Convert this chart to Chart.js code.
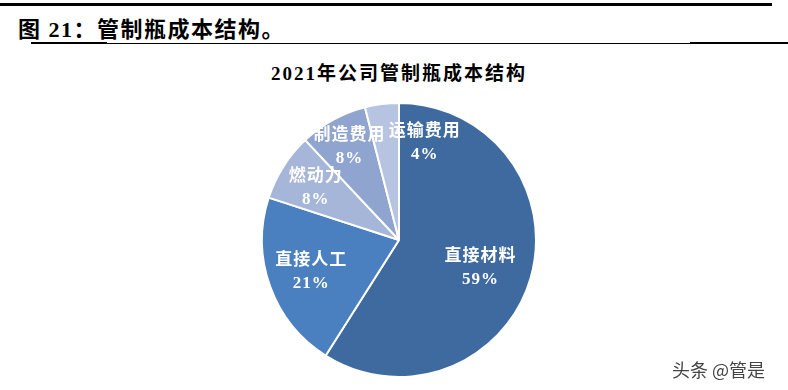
<!DOCTYPE html>
<html>
<head>
<meta charset="utf-8">
<script src="https://cdn.jsdelivr.net/npm/chart.js@4.4.0/dist/chart.umd.min.js"></script>
<style>
  body { margin: 0; background: #fff; }
  #wrap { position: relative; width: 788px; height: 390px; overflow: hidden; }
  .line { position: absolute; background: #000; }
  #head { position: absolute; left: 18px; top: 11px; font: bold 22px "Liberation Serif", "Noto Sans CJK SC", serif; color: #000; letter-spacing: 1.5px; }
  #title { position: absolute; left: 0; width: 798px; top: 58px; text-align: center; font: bold 19px "Liberation Serif", "Noto Sans CJK SC", serif; color: #000; letter-spacing: 2px; }
  #mark { position: absolute; left: 672px; top: 356px; font: 18px "Noto Sans CJK SC", sans-serif; color: #444; text-shadow: 1px 1px 0 #fff; }
  #box { position: absolute; left: 0; top: 0; width: 788px; height: 390px; }
</style>
</head>
<body>
<div id="wrap">
  <div class="line" style="left:0;top:3px;width:772px;height:3px"></div>
  <div id="head">图 21：管制瓶成本结构。</div>
  <div class="line" style="left:31px;top:42px;width:76px;height:2px"></div>
  <div class="line" style="left:107px;top:43px;width:583px;height:1px"></div>
  <div class="line" style="left:690px;top:42px;width:98px;height:2px"></div>
  <div id="title">2021年公司管制瓶成本结构</div>
  <div id="box"><canvas id="pie"></canvas></div>
  <div id="mark">头条 @管是</div>
</div>
<script>
// cost structure, 2021
const categories = ['直接材料', '直接人工', '燃动力', '制造费用', '运输费用'];
const shares = [59, 21, 8, 8, 4];
const colors = ['#3f6aa0', '#4a7fc0', '#a6b6d8', '#8fa4cf', '#b6c4e2'];

// label placement: fraction of radius, plus small nudges
const labelRadius = [0.62, 0.68, 0.72, 0.78, 0.72];
const labelShift = [[0, 4], [0, 0], [0, 0], [2, 0], [38, 0]];

const sliceLabels = {
  id: 'sliceLabels',
  afterDatasetsDraw(chart) {
    const ctx = chart.ctx;
    const meta = chart.getDatasetMeta(0);
    ctx.save();
    ctx.fillStyle = '#fff';
    ctx.textAlign = 'center';
    ctx.textBaseline = 'middle';
    ctx.font = 'bold 17px "Liberation Serif", "Noto Sans CJK SC", serif';
    ctx.letterSpacing = '1px';
    meta.data.forEach((arc, i) => {
      const mid = (arc.startAngle + arc.endAngle) / 2;
      const r = arc.outerRadius * labelRadius[i];
      const x = arc.x + Math.cos(mid) * r + labelShift[i][0];
      const y = arc.y + Math.sin(mid) * r + labelShift[i][1];
      ctx.fillText(categories[i], x, y - 11);
      ctx.fillText(shares[i] + '%', x, y + 12);
    });
    ctx.restore();
  }
};

new Chart(document.getElementById('pie'), {
  type: 'pie',
  data: {
    labels: categories,
    datasets: [{
      data: shares,
      backgroundColor: colors,
      borderColor: '#fff',
      borderWidth: 2
    }]
  },
  options: {
    responsive: true,
    maintainAspectRatio: false,
    animation: false,
    layout: { padding: { top: 102, bottom: 12, left: 261, right: 251 } },
    plugins: {
      legend: { display: false },
      tooltip: { enabled: false }
    }
  },
  plugins: [sliceLabels]
});
</script>
</body>
</html>
